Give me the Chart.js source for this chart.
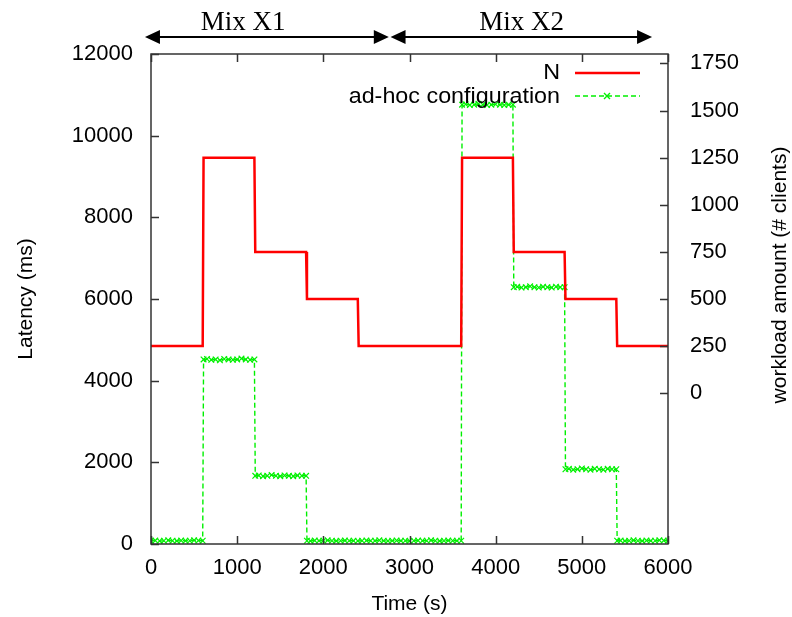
<!DOCTYPE html>
<html lang="en">
<head>
<meta charset="UTF-8">
<title>Latency and workload over time</title>
<script src="https://cdn.jsdelivr.net/npm/chart.js@4.4.1/dist/chart.umd.min.js"></script>
<style>
  html, body { margin: 0; padding: 0; background: #fff; }
  #wrap { width: 792px; height: 617px; position: relative; }
</style>
</head>
<body>
<div id="wrap"><canvas id="chart"></canvas></div>
<script>
// workload N (right axis, # clients)
const redTime    = [0, 600, 610, 1200, 1210, 1800, 1810, 2400, 2410, 3600, 3610, 4200, 4210, 4800, 4810, 5400, 5410, 6000];
const redClients = [250, 250, 1250, 1250, 750, 750, 500, 500, 250, 250, 1250, 1250, 750, 750, 500, 500, 250, 250];

// ad-hoc configuration latency (left axis, ms)
const greenTime = [
  0, 50, 100, 150, 200, 250, 300, 350, 400, 450, 500, 550, 600,
  610, 650, 700, 750, 800, 850, 900, 950, 1000, 1050, 1100, 1150, 1200,
  1210, 1250, 1300, 1350, 1400, 1450, 1500, 1550, 1600, 1650, 1700, 1750, 1800,
  1810, 1850, 1900, 1950, 2000, 2050, 2100, 2150, 2200, 2250, 2300, 2350, 2400, 2450, 2500, 2550, 2600, 2650,
  2700, 2750, 2800, 2850, 2900, 2950, 3000, 3050, 3100, 3150, 3200, 3250, 3300, 3350, 3400, 3450, 3500, 3550, 3600,
  3610, 3650, 3700, 3750, 3800, 3850, 3900, 3950, 4000, 4050, 4100, 4150, 4200,
  4210, 4250, 4300, 4350, 4400, 4450, 4500, 4550, 4600, 4650, 4700, 4750, 4800,
  4810, 4850, 4900, 4950, 5000, 5050, 5100, 5150, 5200, 5250, 5300, 5350, 5400,
  5410, 5450, 5500, 5550, 5600, 5650, 5700, 5750, 5800, 5850, 5900, 5950, 6000
];
const greenLatency = [
  80, 85, 75, 80, 90, 80, 75, 85, 80, 80, 90, 85, 80,
  4520, 4530, 4510, 4520, 4500, 4530, 4520, 4510, 4520, 4540, 4520, 4510, 4520,
  1670, 1680, 1660, 1670, 1690, 1670, 1660, 1680, 1670, 1660, 1680, 1670, 1670,
  80, 75, 85, 80, 80, 90, 80, 75, 80, 85, 80, 80, 75, 80, 85, 80, 80, 90,
  80, 75, 80, 85, 80, 80, 75, 80, 85, 80, 80, 90, 80, 75, 80, 85, 80, 80, 80,
  10760, 10770, 10750, 10760, 10780, 10760, 10750, 10760, 10770, 10760, 10750, 10760, 10760,
  6290, 6300, 6280, 6290, 6310, 6290, 6280, 6300, 6290, 6280, 6300, 6290, 6290,
  1830, 1840, 1820, 1830, 1850, 1830, 1820, 1840, 1830, 1820, 1840, 1830, 1830,
  80, 85, 75, 80, 90, 80, 75, 85, 80, 80, 90, 85, 80
];

const xTicks = [0, 1000, 2000, 3000, 4000, 5000, 6000];
const leftTicks = [0, 2000, 4000, 6000, 8000, 10000, 12000];
const rightTicks = [0, 250, 500, 750, 1000, 1250, 1500, 1750];
const seriesNames = ['N', 'ad-hoc configuration'];

// phase annotations above the plot (time range of each arrow, label position)
const mixLabels = ['Mix X1', 'Mix X2'];
const mixStart = [-70, 2780];
const mixEnd = [2760, 5815];
const mixLabelAt = [1070, 4300];

const RED = '#ff0000';
const GREEN = '#00f000';
const SANS = '"Liberation Sans", Arial, sans-serif';

function toPoints(xs, ys) {
  return xs.map((x, i) => ({ x: x, y: ys[i] }));
}

// text a little wider than the font, like the original export
function wideText(ctx, text, x, y) {
  ctx.save();
  ctx.translate(x, y);
  ctx.scale(1.06, 1);
  ctx.fillText(text, 0, 0);
  ctx.restore();
}

// frame, inward ticks, legend, right title and the Mix arrows
const decorations = {
  id: 'decorations',
  afterDraw(chart) {
    const ctx = chart.ctx;
    const a = chart.chartArea;
    const sx = chart.scales.x, sl = chart.scales.yL, sr = chart.scales.yR;
    ctx.save();

    // border
    ctx.strokeStyle = '#333';
    ctx.lineWidth = 1.5;
    ctx.strokeRect(a.left, a.top, a.right - a.left, a.bottom - a.top);

    // ticks
    ctx.beginPath();
    xTicks.forEach(v => {
      const px = Math.round(sx.getPixelForValue(v)) + 0.5;
      ctx.moveTo(px, a.bottom); ctx.lineTo(px, a.bottom - 8);
      ctx.moveTo(px, a.top); ctx.lineTo(px, a.top + 8);
    });
    leftTicks.forEach(v => {
      const py = Math.round(sl.getPixelForValue(v)) + 0.5;
      ctx.moveTo(a.left, py); ctx.lineTo(a.left + 8, py);
    });
    rightTicks.forEach(v => {
      const py = Math.round(sr.getPixelForValue(v)) + 0.5;
      ctx.moveTo(a.right, py); ctx.lineTo(a.right - 8, py);
    });
    ctx.stroke();

    // legend (text right-aligned, sample on the right)
    ctx.font = '22px ' + SANS;
    ctx.fillStyle = '#000';
    ctx.textAlign = 'right';
    ctx.textBaseline = 'middle';
    wideText(ctx, seriesNames[0], 560, 73);
    wideText(ctx, seriesNames[1], 560, 97);
    ctx.strokeStyle = RED;
    ctx.lineWidth = 2.5;
    ctx.beginPath(); ctx.moveTo(575, 73); ctx.lineTo(640, 73); ctx.stroke();
    ctx.strokeStyle = GREEN;
    ctx.lineWidth = 1.4;
    ctx.setLineDash([5, 3]);
    ctx.beginPath(); ctx.moveTo(575, 96); ctx.lineTo(640, 96); ctx.stroke();
    ctx.setLineDash([]);
    ctx.beginPath();
    ctx.moveTo(604, 93); ctx.lineTo(610, 99);
    ctx.moveTo(604, 99); ctx.lineTo(610, 93);
    ctx.stroke();

    // right axis title, reading bottom to top
    ctx.save();
    ctx.font = '21px ' + SANS;
    ctx.translate(780, 275);
    ctx.rotate(-Math.PI / 2);
    ctx.textAlign = 'center';
    ctx.fillStyle = '#000';
    ctx.fillText('workload amount (# clients)', 0, 0);
    ctx.restore();

    // Mix arrows
    const ay = 37;
    ctx.strokeStyle = '#000';
    ctx.fillStyle = '#000';
    ctx.lineWidth = 2;
    ctx.font = '27px "Liberation Serif", "Times New Roman", serif';
    ctx.textAlign = 'center';
    ctx.textBaseline = 'alphabetic';
    mixLabels.forEach((label, i) => {
      const x0 = sx.getPixelForValue(mixStart[i]);
      const x1 = sx.getPixelForValue(mixEnd[i]);
      ctx.beginPath(); ctx.moveTo(x0 + 10, ay); ctx.lineTo(x1 - 10, ay); ctx.stroke();
      ctx.beginPath();
      ctx.moveTo(x0, ay); ctx.lineTo(x0 + 15, ay - 7); ctx.lineTo(x0 + 15, ay + 7); ctx.closePath();
      ctx.moveTo(x1, ay); ctx.lineTo(x1 - 15, ay - 7); ctx.lineTo(x1 - 15, ay + 7); ctx.closePath();
      ctx.fill();
      ctx.fillText(label, sx.getPixelForValue(mixLabelAt[i]), 30);
    });
    ctx.restore();
  }
};

const tickFont = { family: SANS, size: 22 };
const titleFont = { family: SANS, size: 21 };
const plain = v => String(v);

new Chart(document.getElementById('chart'), {
  type: 'line',
  data: {
    datasets: [
      {
        label: seriesNames[0],
        data: toPoints(redTime, redClients),
        yAxisID: 'yR',
        borderColor: RED,
        borderWidth: 2.5,
        pointRadius: 0,
        tension: 0
      },
      {
        label: seriesNames[1],
        data: toPoints(greenTime, greenLatency),
        yAxisID: 'yL',
        borderColor: GREEN,
        borderWidth: 1.4,
        borderDash: [5, 3],
        pointStyle: 'crossRot',
        pointRadius: 4,
        pointBorderColor: GREEN,
        pointBorderWidth: 1.2,
        tension: 0
      }
    ]
  },
  options: {
    responsive: true,
    maintainAspectRatio: false,
    animation: false,
    layout: { padding: { top: 54, left: 0, right: 0, bottom: 0 } },
    plugins: {
      legend: { display: false },
      tooltip: { enabled: false }
    },
    scales: {
      x: {
        type: 'linear',
        min: 0,
        max: 6000,
        afterBuildTicks: s => { s.ticks = xTicks.map(v => ({ value: v })); },
        afterFit: s => { s.height = 73; },
        grid: { display: false },
        border: { display: false },
        ticks: { font: tickFont, color: '#000', padding: 3, maxRotation: 0, callback: plain },
        title: { display: true, text: 'Time (s)', font: titleFont, color: '#000', padding: 0 }
      },
      yL: {
        position: 'left',
        min: 0,
        max: 12000,
        afterBuildTicks: s => { s.ticks = leftTicks.map(v => ({ value: v })); },
        afterFit: s => { s.width = 151; },
        grid: { display: false },
        border: { display: false },
        ticks: { font: tickFont, color: '#000', padding: 10, callback: plain },
        title: { display: true, text: 'Latency (ms)', font: titleFont, color: '#000', padding: 14 }
      },
      yR: {
        position: 'right',
        min: -800,
        max: 1800,
        afterBuildTicks: s => { s.ticks = rightTicks.map(v => ({ value: v })); },
        afterFit: s => { s.width = 124; },
        grid: { display: false },
        border: { display: false },
        ticks: { font: tickFont, color: '#000', padding: 14, callback: plain },
        title: { display: false }
      }
    }
  },
  plugins: [decorations]
});
</script>
</body>
</html>
